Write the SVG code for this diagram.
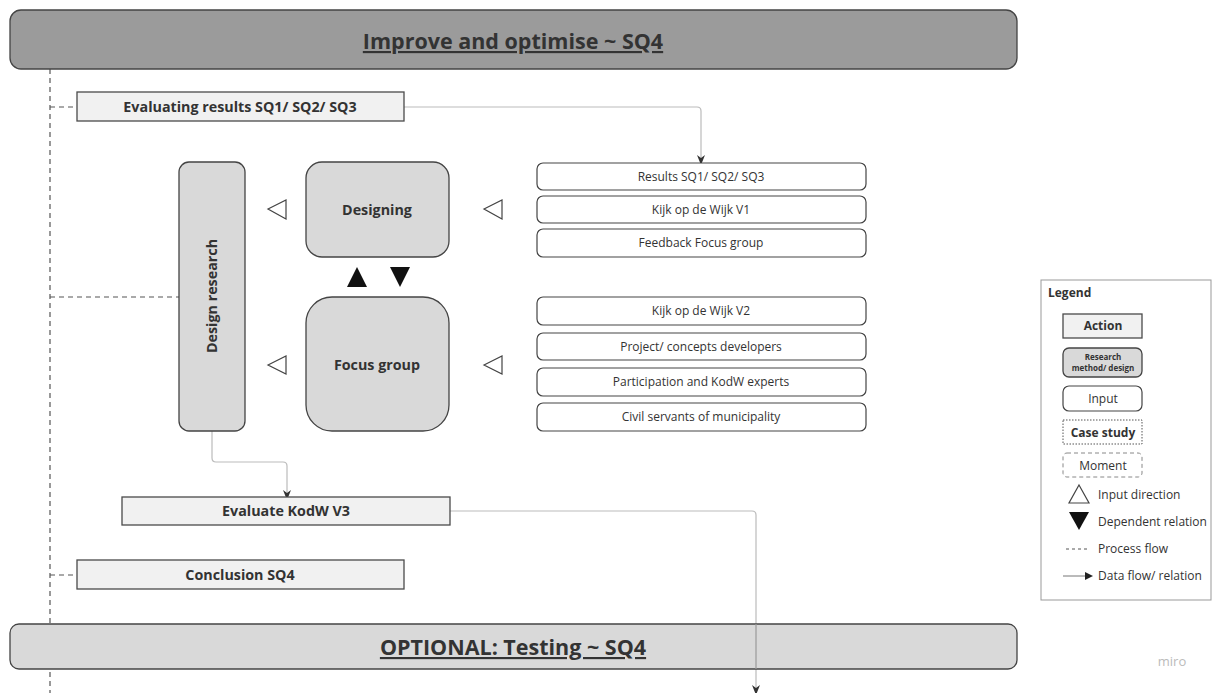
<svg xmlns="http://www.w3.org/2000/svg" width="1215" height="693" viewBox="0 0 1215 693">
<style>
text{font-family:"Open Sans","Noto Sans","Liberation Sans",sans-serif;fill:#333}
.b{font-weight:bold}
.act{fill:#f1f1f1;stroke:#4a4a4a;stroke-width:1.3}
.rm{fill:#d9d9d9;stroke:#444;stroke-width:1.3}
.inp{fill:#fff;stroke:#444;stroke-width:1.2}
.pf{fill:none;stroke:#555;stroke-width:1.2;stroke-dasharray:5 4}
.df{fill:none;stroke:#bbb;stroke-width:1.2}
.tri{fill:#fff;stroke:#444;stroke-width:1.2}
.dep{fill:#111}
.t12{font-size:12px}
.t14{font-size:14.3px}
.hd{font-size:21.5px}
</style>
<defs>
<marker id="ah" markerWidth="10" markerHeight="10" refX="5" refY="5" orient="auto" markerUnits="userSpaceOnUse">
<path d="M0,1 L10,5 L0,9 L3,5 Z" fill="#333"/>
</marker>
</defs>
<rect width="1215" height="693" fill="#fff"/>

<g id="connectors">
<path class="pf" d="M50,69 V693"/>
<path class="pf" d="M50,107 H77"/>
<path class="pf" d="M50,297 H179"/>
<path class="pf" d="M50,575 H77"/>
<path class="df" d="M404,107 H697 Q701,107 701,111 V160" marker-end="url(#ah)"/>
<path class="df" d="M212,431 V458 Q212,462 216,462 H283 Q287,462 287,466 V495" marker-end="url(#ah)"/>
<path class="df" d="M450,511 H752 Q756,511 756,515 V690" marker-end="url(#ah)"/>
</g>

<g id="header-top">
<rect x="10" y="10" width="1007" height="59" rx="11" fill="#9b9b9b" stroke="#444" stroke-width="1.3"/>
<text x="513" y="49" text-anchor="middle" class="b hd" text-decoration="underline">Improve and optimise ~ SQ4</text>
</g>

<g id="evaluating-results">
<rect class="act" x="77" y="92" width="327" height="29"/>
<text x="240" y="112" text-anchor="middle" class="b t14">Evaluating results SQ1/ SQ2/ SQ3</text>
</g>

<g id="design-research">
<rect class="rm" x="179" y="162" width="66" height="269" rx="10"/>
<text transform="translate(217,296) rotate(-90)" text-anchor="middle" class="b t14">Design research</text>
</g>

<g id="designing">
<rect class="rm" x="306" y="162" width="143" height="95" rx="16"/>
<text x="377" y="215" text-anchor="middle" class="b t14">Designing</text>
</g>

<g id="focus-group">
<rect class="rm" x="306" y="297" width="143" height="134" rx="26"/>
<text x="377" y="370" text-anchor="middle" class="b t14">Focus group</text>
</g>

<g id="input-direction-markers">
<polygon class="tri" points="268,209 286,200 286,219"/>
<polygon class="tri" points="484,209 502,200 502,219"/>
<polygon class="tri" points="268,365 286,356 286,374"/>
<polygon class="tri" points="484,365 502,356 502,374"/>
</g>

<g id="dependent-markers">
<polygon class="dep" points="357,267 367,287 347,287"/>
<polygon class="dep" points="390,267 410,267 400,287"/>
</g>

<g id="inputs-designing">
<rect class="inp" x="537" y="163" width="329" height="27" rx="6"/>
<text x="701" y="181" text-anchor="middle" class="t12">Results SQ1/ SQ2/ SQ3</text>
<rect class="inp" x="537" y="196" width="329" height="27" rx="6"/>
<text x="701" y="214" text-anchor="middle" class="t12">Kijk op de Wijk V1</text>
<rect class="inp" x="537" y="229" width="329" height="28" rx="6"/>
<text x="701" y="247" text-anchor="middle" class="t12">Feedback Focus group</text>
</g>

<g id="inputs-focus">
<rect class="inp" x="537" y="297" width="329" height="28" rx="6"/>
<text x="701" y="315" text-anchor="middle" class="t12">Kijk op de Wijk V2</text>
<rect class="inp" x="537" y="333" width="329" height="27" rx="6"/>
<text x="701" y="351" text-anchor="middle" class="t12">Project/ concepts developers</text>
<rect class="inp" x="537" y="368" width="329" height="28" rx="6"/>
<text x="701" y="386" text-anchor="middle" class="t12">Participation and KodW experts</text>
<rect class="inp" x="537" y="403" width="329" height="28" rx="6"/>
<text x="701" y="421" text-anchor="middle" class="t12">Civil servants of municipality</text>
</g>

<g id="evaluate-kodw">
<rect class="act" x="122" y="497" width="328" height="28"/>
<text x="286" y="516" text-anchor="middle" class="b t14">Evaluate KodW V3</text>
</g>

<g id="conclusion">
<rect class="act" x="77" y="560" width="327" height="29"/>
<text x="240" y="580" text-anchor="middle" class="b t14">Conclusion SQ4</text>
</g>

<g id="header-bottom">
<rect x="10" y="624" width="1007" height="45" rx="9" fill="#d9d9d9" stroke="#444" stroke-width="1.3"/>
<path d="M756,624 V669" stroke="#999" stroke-width="1.2"/>
<text x="513" y="655" text-anchor="middle" class="b hd" text-decoration="underline">OPTIONAL: Testing ~ SQ4</text>
</g>

<g id="legend">
<rect x="1041" y="280" width="170" height="320" fill="#fff" stroke="#999" stroke-width="1"/>
<text x="1048" y="297" class="b t12">Legend</text>
<rect class="act" x="1063" y="314" width="79" height="24"/>
<text x="1103" y="330" text-anchor="middle" class="b t12">Action</text>
<rect class="rm" x="1063" y="348" width="79" height="29" rx="6"/>
<text x="1103" y="360" text-anchor="middle" class="b" font-size="8">Research</text>
<text x="1103" y="371" text-anchor="middle" class="b" font-size="8">method/ design</text>
<rect class="inp" x="1063" y="386" width="79" height="25" rx="6"/>
<text x="1103" y="403" text-anchor="middle" class="t12">Input</text>
<rect x="1063" y="420" width="79" height="24" fill="#fff" stroke="#555" stroke-width="1" stroke-dasharray="1.5 1.5"/>
<text x="1103" y="437" text-anchor="middle" class="b t12">Case study</text>
<rect x="1063" y="453" width="79" height="24" rx="4" fill="#fff" stroke="#888" stroke-width="1" stroke-dasharray="4 3"/>
<text x="1103" y="470" text-anchor="middle" class="t12">Moment</text>
<polygon class="tri" points="1079,485 1089,503 1069,503"/>
<text x="1098" y="499" class="t12">Input direction</text>
<polygon class="dep" points="1069,512 1089,512 1079,530"/>
<text x="1098" y="526" class="t12">Dependent relation</text>
<path d="M1066,549 H1090" stroke="#555" stroke-width="1" stroke-dasharray="3 3"/>
<text x="1098" y="553" class="t12">Process flow</text>
<path d="M1063,576 H1086" stroke="#777" stroke-width="1"/>
<path d="M1085,572 L1093,576 L1085,580 Z" fill="#222"/>
<text x="1098" y="580" class="t12">Data flow/ relation</text>
</g>

<text x="1172" y="666" text-anchor="middle" font-size="13" style="fill:#bbb">miro</text>
</svg>
